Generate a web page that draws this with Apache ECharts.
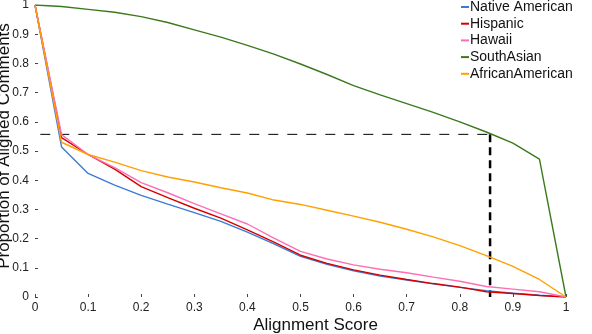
<!DOCTYPE html>
<html>
<head>
<meta charset="utf-8">
<script src="https://cdn.jsdelivr.net/npm/echarts@6/dist/echarts.min.js"></script>
<style>
html,body{margin:0;padding:0;background:#fff;}
#chart{width:592px;height:334px;}
</style>
</head>
<body>
<div id="chart"></div>
<script>
const xs = [0,0.05,0.1,0.15,0.2,0.25,0.3,0.35,0.4,0.45,0.5,0.55,0.6,0.65,0.7,0.75,0.8,0.85,0.9,0.95,1];
const nativeAmerican = [1,0.514,0.423,0.383,0.348,0.318,0.289,0.259,0.222,0.182,0.139,0.112,0.09,0.072,0.058,0.045,0.033,0.022,0.013,0.006,0];
const hispanic = [1,0.546,0.488,0.438,0.378,0.340,0.304,0.270,0.230,0.188,0.143,0.115,0.093,0.075,0.060,0.046,0.034,0.018,0.012,0.005,0];
const hawaii = [1,0.556,0.488,0.443,0.392,0.357,0.320,0.285,0.250,0.202,0.156,0.130,0.110,0.095,0.083,0.068,0.054,0.036,0.027,0.018,0];
const southAsian = [1,0.995,0.985,0.975,0.96,0.94,0.915,0.89,0.862,0.832,0.798,0.762,0.724,0.692,0.662,0.632,0.600,0.565,0.527,0.472,0];
const africanAmerican = [1,0.53,0.488,0.462,0.433,0.411,0.394,0.374,0.356,0.332,0.317,0.297,0.277,0.256,0.232,0.206,0.176,0.142,0.105,0.06,0];
const seriesNames = ['Native American','Hispanic','Hawaii','SouthAsian','AfricanAmerican'];
const thresholdX = 0.857;
const thresholdY = 0.557;
const dashStartX = 0.01;

const colors = ['#3b7bd6','#d30000','#ff6eb4','#3b7a1c','#ffa000'];
const values = [nativeAmerican, hispanic, hawaii, southAsian, africanAmerican];
const pair = arr => xs.map((x,i)=>[x,arr[i]]);

const chart = echarts.init(document.getElementById('chart'), null, {renderer:'canvas'});
const font = 'Liberation Sans, Arial, Helvetica, sans-serif';
const series = seriesNames.map((n,i)=>({
  name:n, type:'line', data:pair(values[i]), showSymbol:false, symbol:'none',
  lineStyle:{color:colors[i], width:1.4}, itemStyle:{color:colors[i]},
  z: 3
}));
series.push({
  name:'hline', type:'line', data:[[dashStartX,thresholdY],[thresholdX,thresholdY]],
  symbol:'none', lineStyle:{color:'#000', width:1, type:[10,9]}, z:2, silent:true
});
series.push({
  name:'vline', type:'line', data:[[thresholdX,thresholdY],[thresholdX,0]],
  symbol:'none', lineStyle:{color:'#000', width:2.5, type:[8,5]}, z:2, silent:true
});
chart.setOption({
  animation:false,
  backgroundColor:'#fff',
  textStyle:{fontFamily:font},
  grid:{left:35, right:26, top:5, bottom:37, containLabel:false, outerBoundsMode:'none'},
  legend:{
    data:seriesNames.map((n,i)=>({name:n, itemStyle:{color:colors[i]}})),
    orient:'vertical', left:461, top:0, itemWidth:8, itemHeight:2, itemGap:2.7,
    icon:'rect', padding:0,
    textStyle:{fontFamily:font, fontSize:14, color:'#111', lineHeight:14, padding:[0,0,0,-4]}
  },
  xAxis:{
    type:'value', min:0, max:1, interval:0.1,
    name:'Alignment Score', nameLocation:'middle', nameGap:20, nameMoveOverlap:false,
    nameTextStyle:{fontFamily:font, fontSize:17, color:'#111', padding:[0,0,0,30]},
    axisLine:{show:false},
    axisTick:{show:true, inside:true, length:3, lineStyle:{color:'#444'}},
    axisLabel:{fontFamily:font, fontSize:12, color:'#222', margin:5,
      formatter:v=>String(Math.round(v*10)/10)},
    splitLine:{show:false}
  },
  yAxis:{
    type:'value', min:0, max:1, interval:0.1,
    name:'Proportion of Aligned Comments', nameLocation:'middle', nameGap:22, nameMoveOverlap:false,
    nameTextStyle:{fontFamily:font, fontSize:17, color:'#111', padding:[0,0,0,10]},
    axisLine:{show:false},
    axisTick:{show:true, inside:true, length:3, lineStyle:{color:'#444'}},
    axisLabel:{fontFamily:font, fontSize:12, color:'#222', margin:6,
      formatter:v=>String(Math.round(v*10)/10)},
    splitLine:{show:false}
  },
  series:series
});
</script>
</body>
</html>
